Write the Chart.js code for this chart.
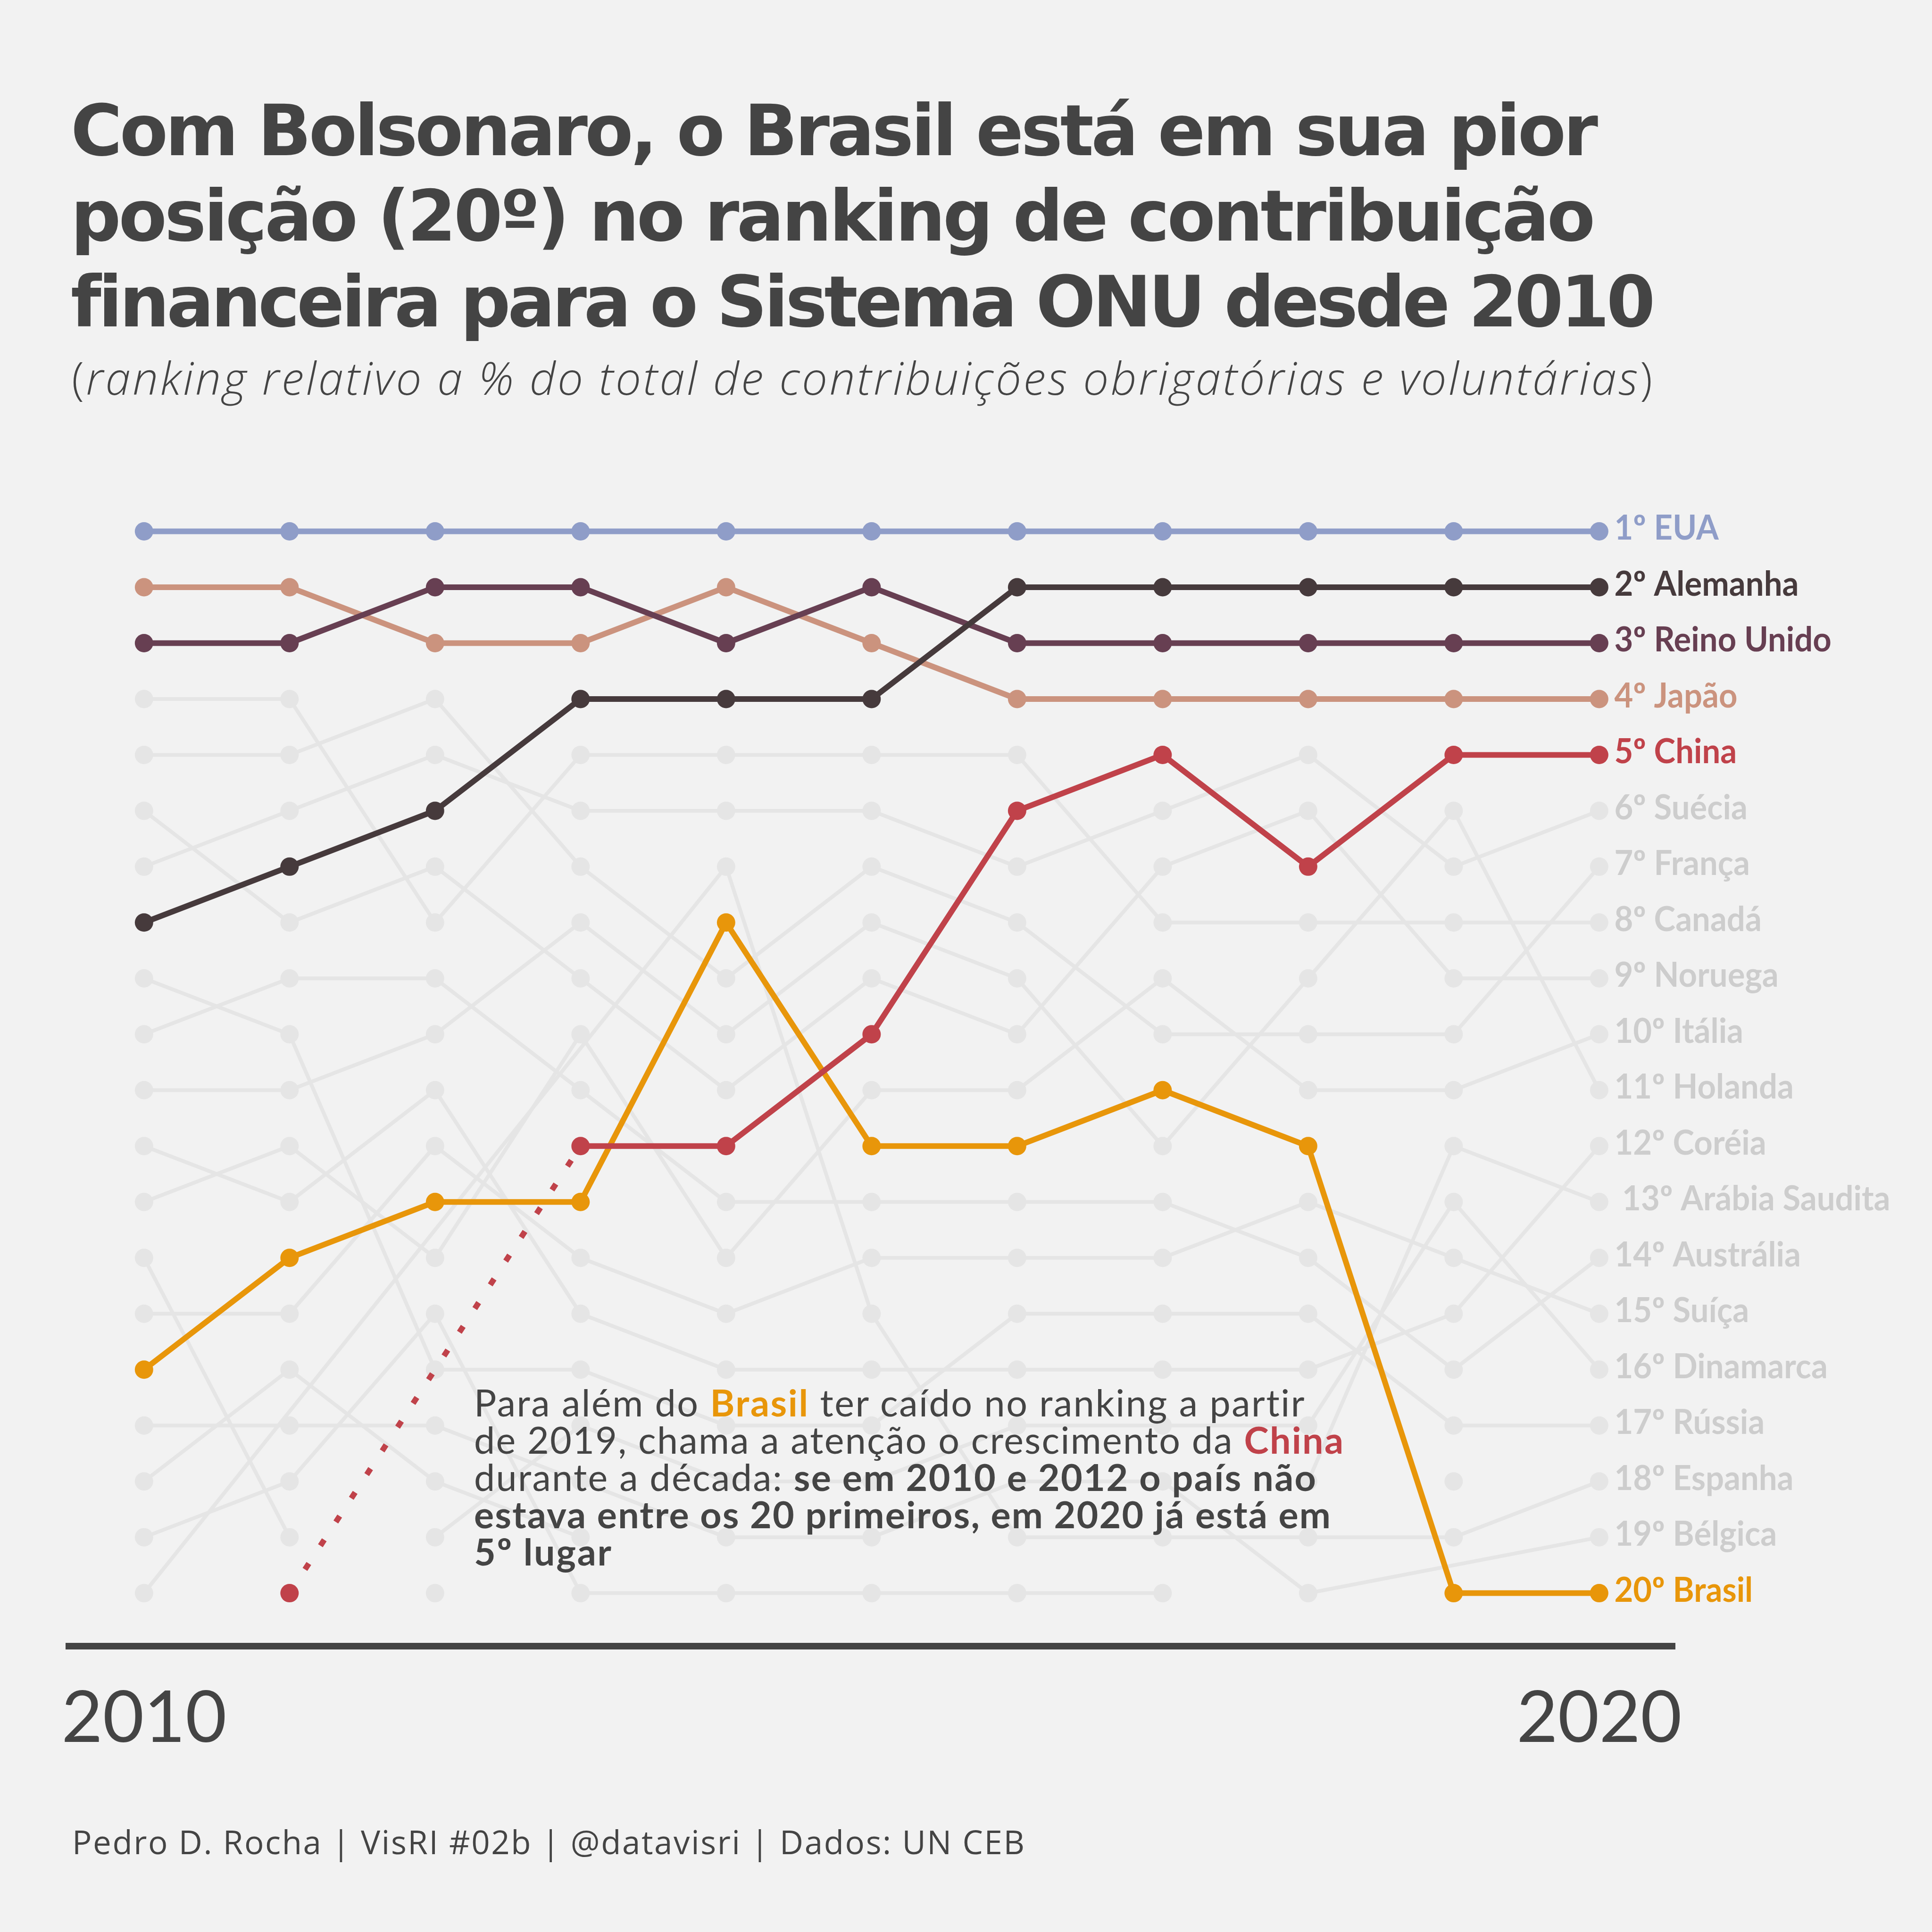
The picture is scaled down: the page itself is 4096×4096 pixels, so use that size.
<!DOCTYPE html>
<html><head><meta charset="utf-8">
<script src="https://cdn.jsdelivr.net/npm/chart.js@4.4.1/dist/chart.umd.min.js"></script>
<style>
html,body{margin:0;padding:0;background:#f2f2f2;}
body{width:4096px;height:4096px;position:relative;overflow:hidden;}
#c{position:absolute;left:0;top:0;width:4096px;height:4096px;}
.t{position:absolute;white-space:nowrap;color:#444;line-height:1;top:0;}
.title{font-family:'DejaVu Sans';font-weight:bold;font-size:149px;left:150px;}
.sub{font-family:'Open Sans';font-weight:300;font-size:96px;left:152px;}
.sub i{font-style:italic;}
.note{font-family:'Lato';font-size:79px;left:1005px;}
.note b{font-weight:700;}
.foot{font-family:'Open Sans';font-weight:400;font-size:69px;left:153px;}
</style></head><body>
<canvas id="c" width="4096" height="4096"></canvas>
<div class="t title" data-b="329" data-w="3238">Com Bolsonaro, o Brasil está em sua pior</div>
<div class="t title" data-b="510.4" data-w="3232">posição (20º) no ranking de contribuição</div>
<div class="t title" data-b="691.8" data-w="3354">financeira para o Sistema ONU desde 2010</div>
<div class="t sub" data-b="836.7" data-w="3351">(<i>ranking relativo a % do total de contribuições obrigatórias e voluntárias</i>)</div>
<div class="t note" data-b="3003.1" data-w="1762">Para além do <b style="color:#e8960a">Brasil</b> ter caído no ranking a partir</div>
<div class="t note" data-b="3082.4" data-w="1843">de 2019, chama a atenção o crescimento da <b style="color:#c0424a">China</b></div>
<div class="t note" data-b="3160.8" data-w="1785">durante a década: <b>se em 2010 e 2012 o país não</b></div>
<div class="t note" data-b="3240.1" data-w="1816"><b>estava entre os 20 primeiros, em 2020 já está em</b></div>
<div class="t note" data-b="3319.3" data-w="291"><b>5º lugar</b></div>
<div class="t foot" data-b="3931" data-w="2019">Pedro D. Rocha | VisRI #02b | @datavisri | Dados: UN CEB</div>
<script>
// ---------- DATA ----------
const years = [2010,2011,2012,2013,2014,2015,2016,2017,2018,2019,2020];

// highlighted countries (rank per year, null = outside the top 20)
const eua        = [1,1,1,1,1,1,1,1,1,1,1];
const alemanha   = [8,7,6,4,4,4,2,2,2,2,2];
const reinoUnido = [3,3,2,2,3,2,3,3,3,3,3];
const japao      = [2,2,3,3,2,3,4,4,4,4,4];
const china      = [null,20,null,12,12,10,6,5,7,5,5];
const brasil     = [16,14,13,13,8,12,12,11,12,20,20];

// other countries (grey)
const suecia        = [7,6,5,6,6,6,7,6,5,7,6];
const franca        = [5,5,4,7,9,7,8,10,10,10,7];
const canada        = [4,4,8,5,5,5,5,8,8,8,8];
const noruega       = [6,8,7,9,11,9,10,7,6,9,9];
const italia        = [13,12,14,10,14,11,11,9,11,11,10];
const holanda       = [11,11,10,8,10,8,9,12,9,6,11];
const coreia        = [12,13,11,15,16,16,16,16,16,15,12];
const arabiaSaudita = [null,null,null,null,null,null,null,null,18,12,13];
const australia     = [10,9,9,11,13,13,13,13,14,16,14];
const suica         = [15,15,12,14,15,14,14,14,13,14,15];
const dinamarca     = [null,null,19,17,18,18,17,17,17,13,16];
const russia        = [9,10,16,16,17,17,15,15,15,17,17];
const espanha       = [20,null,null,null,7,15,19,19,19,19,18];
const belgica       = [17,17,17,18,19,19,18,18,20,null,19];
const outroA = [14,19,null,null,null,null,null,null,null,null,null];
const outroB = [18,16,18,19,null,null,null,null,null,null,null];
const outroC = [19,18,15,20,20,20,20,20,null,null,null];
const outroD = [null,null,20,null,null,null,null,null,null,null,null];
const outroE = [null,null,null,null,null,null,null,null,null,18,null];

const endLabels = {
  eua:'1º EUA', alemanha:'2º Alemanha', reinoUnido:'3º Reino Unido', japao:'4º Japão', china:'5º China',
  suecia:'6º Suécia', franca:'7º França', canada:'8º Canadá', noruega:'9º Noruega', italia:'10º Itália',
  holanda:'11º Holanda', coreia:'12º Coréia', arabiaSaudita:' 13º Arábia Saudita', australia:'14º Austrália',
  suica:'15º Suíça', dinamarca:'16º Dinamarca', russia:'17º Rússia', espanha:'18º Espanha',
  belgica:'19º Bélgica', brasil:'20º Brasil'
};
const xTicks = [2010, 2020];

// ---------- STYLE ----------
const GREY = '#e5e5e5', GREY_LABEL = '#cdcdcd';
const highlight = [
  ['china', china, '#c0424a'],
  ['brasil', brasil, '#e8960a'],
  ['eua', eua, '#8f9dc8'],
  ['alemanha', alemanha, '#463a3c'],
  ['reinoUnido', reinoUnido, '#673f52'],
  ['japao', japao, '#cb937e']
];
const greys = [
  ['suecia',suecia],['franca',franca],['canada',canada],['noruega',noruega],['italia',italia],
  ['holanda',holanda],['coreia',coreia],['arabiaSaudita',arabiaSaudita],['australia',australia],
  ['suica',suica],['dinamarca',dinamarca],['russia',russia],['espanha',espanha],['belgica',belgica],
  ['a',outroA],['b',outroB],['c',outroC],['d',outroD],['e',outroE]
];
const toPts = arr => years.map((y,i)=>({x:y, y:arr[i]}));
const datasets = [];
highlight.forEach(([k,arr,col])=>{
  datasets.push({
    label:k, data:toPts(arr), borderColor:col, backgroundColor:col, pointBackgroundColor:col,
    borderWidth:12, pointRadius:19.5, pointBorderWidth:0, spanGaps:true,
    endLabel:endLabels[k], endColor:col,
    segment:{ borderDash: c => (arr[c.p1DataIndex-1] == null ? [15,45] : undefined) }
  });
});
greys.forEach(([k,arr])=>{
  datasets.push({
    label:k, data:toPts(arr), borderColor:GREY, backgroundColor:GREY, pointBackgroundColor:GREY,
    borderWidth:8, pointRadius:19.5, pointBorderWidth:0, spanGaps:true,
    endLabel:endLabels[k], endColor:GREY_LABEL
  });
});

const endLabelPlugin = {
  id:'endLabels',
  afterDatasetsDraw(chart){
    const {ctx, scales:{x,y}} = chart;
    ctx.save();
    ctx.font = 'bold 72.5px Lato';
    const sx = 391 / ctx.measureText('2º Alemanha').width;
    chart.data.datasets.forEach(ds=>{
      if(!ds.endLabel) return;
      const last = ds.data[ds.data.length-1];
      if(last.y == null) return;
      ctx.save();
      ctx.translate(x.getPixelForValue(last.x) + 32, y.getPixelForValue(last.y) + 18);
      ctx.scale(sx,1);
      ctx.fillStyle = ds.endColor;
      ctx.textBaseline = 'alphabetic';
      ctx.textAlign = 'left';
      ctx.fillText(ds.endLabel,0,0);
      ctx.restore();
    });
    ctx.restore();
  }
};

new Chart(document.getElementById('c'), {
  type:'line',
  data:{datasets},
  options:{
    responsive:false, animation:false, devicePixelRatio:1, events:[],
    layout:{padding:{left:146, right:545, top:1067.25, bottom:356}},
    elements:{line:{tension:0}},
    plugins:{legend:{display:false}, tooltip:{enabled:false}, title:{display:false}},
    scales:{
      x:{type:'linear', min:2009.4836, max:2020.5206,
         afterBuildTicks: s => { s.ticks = xTicks.map(v=>({value:v})); },
         grid:{display:false, drawTicks:false},
         border:{display:true, color:'#444', width:14},
         ticks:{font:{family:'Lato', size:151}, color:'#444', padding:64, autoSkip:false, maxRotation:0,
                callback: v => String(v)},
         afterFit: s => { s.height = 250; }
      },
      y:{type:'linear', display:false, reverse:true, min:0.5, max:20.9485}
    }
  },
  plugins:[endLabelPlugin]
});

// ---------- text placement ----------
function place(el){
  const target = parseFloat(el.dataset.b);
  const tw = parseFloat(el.dataset.w);
  if(tw){
    el.style.letterSpacing = '0px';
    const w = el.getBoundingClientRect().width;
    const n = el.textContent.length;
    el.style.letterSpacing = ((tw - w)/(n-1)) + 'px';
  }
  el.style.top = '0px';
  const s = document.createElement('span');
  s.style.cssText = 'display:inline-block;width:0;height:0;vertical-align:baseline;';
  el.appendChild(s);
  const b = s.getBoundingClientRect().bottom;
  el.style.top = (target - b) + 'px';
}
document.querySelectorAll('.t').forEach(place);
</script>
</body></html>
